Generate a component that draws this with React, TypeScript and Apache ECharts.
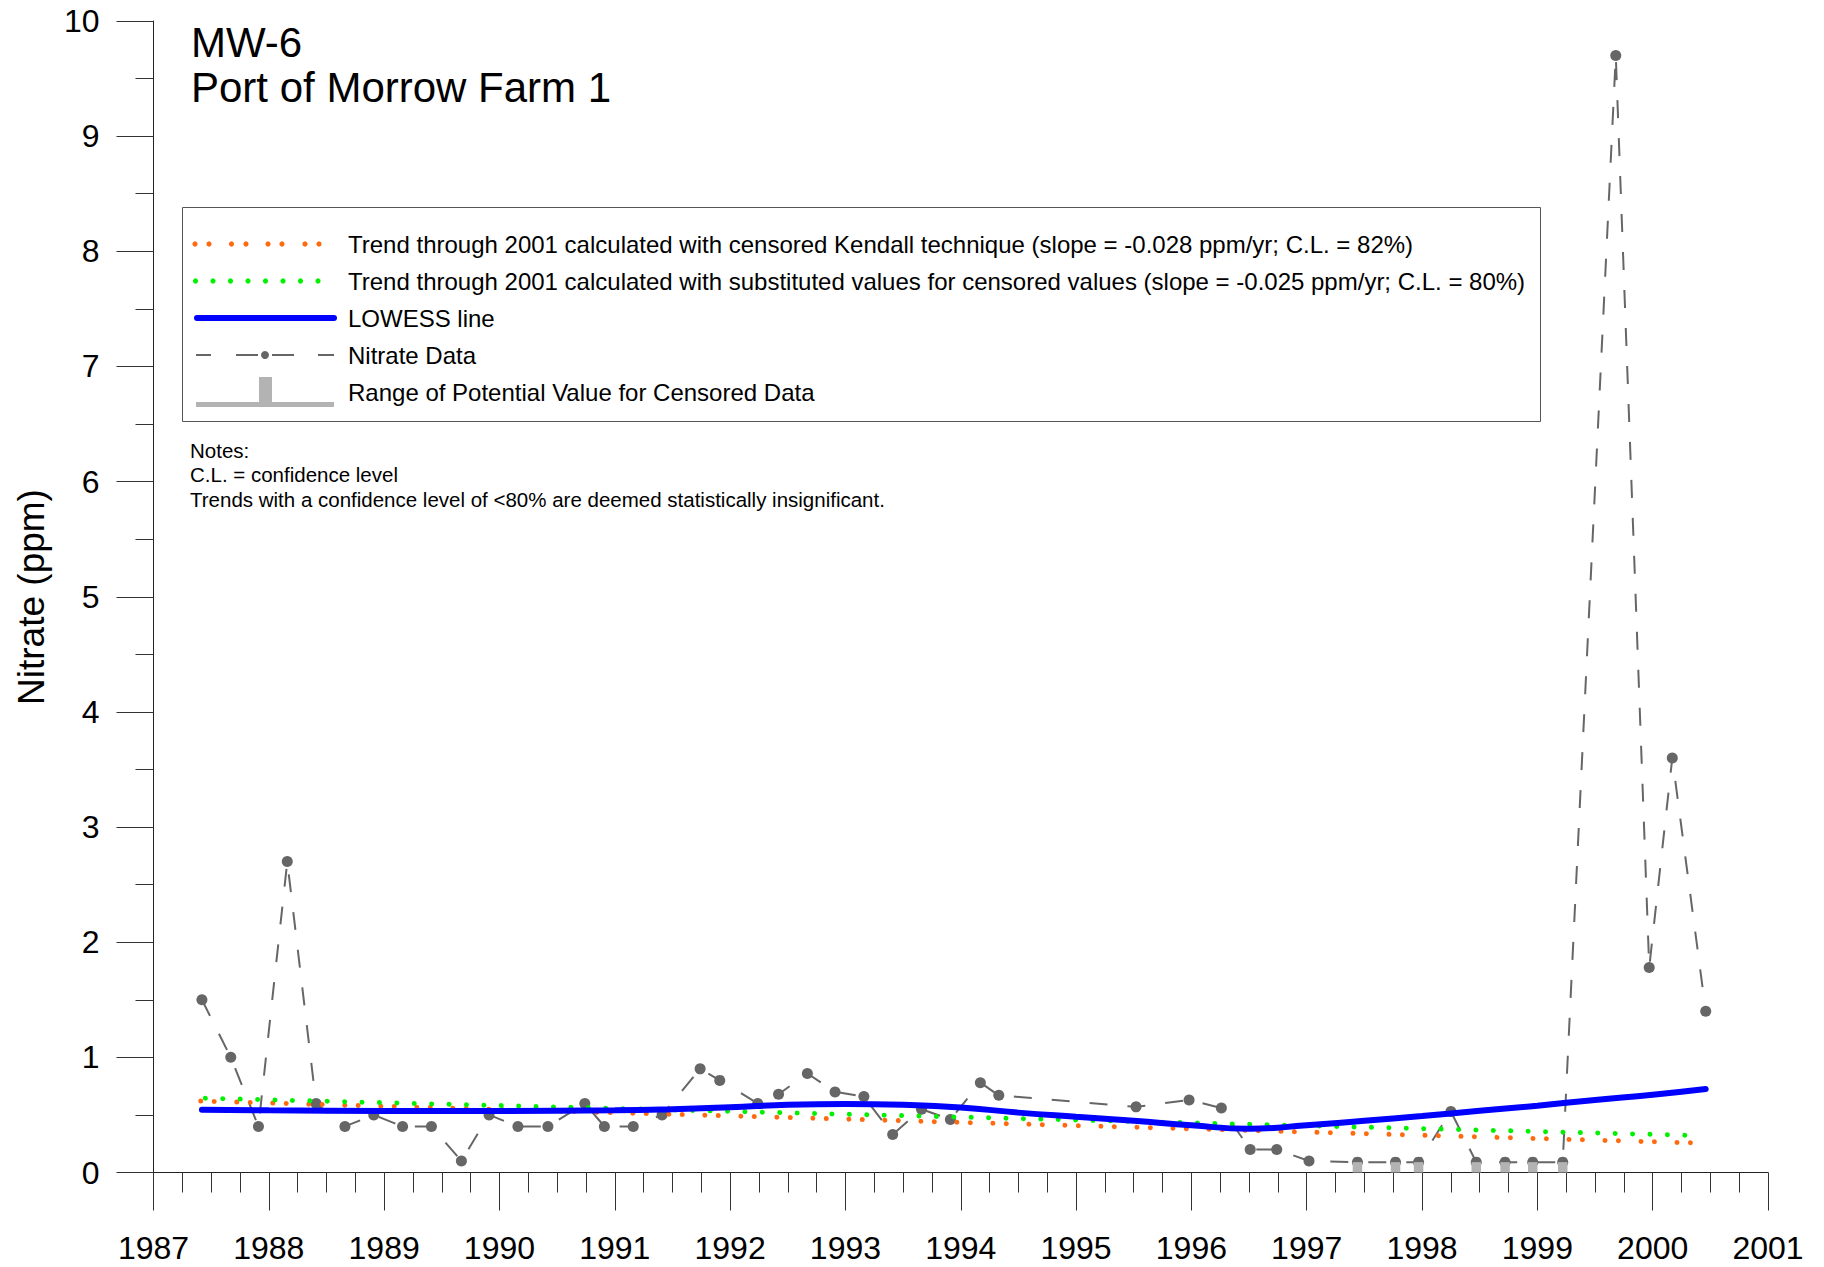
import React, { useEffect, useRef } from "react";
import * as echarts from "echarts";

// ---- Data ----
const nitrateData: [number, number][] = [
  [1987.42, 1.5], [1987.67, 1.0], [1987.91, 0.4], [1988.16, 2.7], [1988.41, 0.6],
  [1988.66, 0.4], [1988.91, 0.5], [1989.16, 0.4], [1989.41, 0.4], [1989.67, 0.1],
  [1989.91, 0.5], [1990.16, 0.4], [1990.42, 0.4], [1990.74, 0.6], [1990.91, 0.4],
  [1991.16, 0.4], [1991.41, 0.5], [1991.74, 0.9], [1991.91, 0.8], [1992.24, 0.6],
  [1992.42, 0.68], [1992.67, 0.86], [1992.91, 0.7], [1993.16, 0.66], [1993.41, 0.33],
  [1993.66, 0.55], [1993.91, 0.46], [1994.17, 0.78], [1994.33, 0.67], [1995.52, 0.57],
  [1995.98, 0.63], [1996.26, 0.56], [1996.51, 0.2], [1996.74, 0.2], [1997.02, 0.1],
  [1997.44, 0.09], [1997.77, 0.09], [1997.97, 0.09], [1998.25, 0.53], [1998.47, 0.09],
  [1998.72, 0.09], [1998.96, 0.09], [1999.22, 0.09], [1999.68, 9.7], [1999.97, 1.78],
  [2000.17, 3.6], [2000.46, 1.4],
];

const censoredData: [number, number][] = [
  [1997.44, 0.09], [1997.77, 0.09], [1997.97, 0.09], [1998.47, 0.09],
  [1998.72, 0.09], [1998.96, 0.09], [1999.22, 0.09],
];

const lowessData: [number, number][] = [
  [1987.42, 0.545], [1988, 0.54], [1989, 0.535], [1990, 0.535], [1991, 0.54],
  [1991.5, 0.55], [1992, 0.567], [1992.5, 0.588], [1993, 0.595], [1993.5, 0.588],
  [1994, 0.565], [1994.5, 0.52], [1995, 0.484], [1995.5, 0.45], [1996, 0.41],
  [1996.5, 0.38], [1997, 0.41], [1997.5, 0.45], [1998, 0.49], [1998.5, 0.536],
  [1999, 0.58], [1999.5, 0.63], [2000, 0.675], [2000.46, 0.725],
];

const kendallTrend: [number, number][] = [[1987.41, 0.62], [2000.4, 0.256]];
const substitutedTrend: [number, number][] = [[1987.45, 0.645], [2000.36, 0.322]];

const titleLines = ["MW-6", "Port of Morrow Farm 1"];
const legendLabels = [
  "Trend through 2001 calculated with censored Kendall technique (slope = -0.028 ppm/yr; C.L. = 82%)",
  "Trend through 2001 calculated with substituted values for censored values (slope = -0.025 ppm/yr; C.L. = 80%)",
  "LOWESS line",
  "Nitrate Data",
  "Range of Potential Value for Censored Data",
];
const notesLines = [
  "Notes:",
  "C.L. = confidence level",
  "Trends with a confidence level of <80% are deemed statistically insignificant.",
];
const yAxisTitle = "Nitrate (ppm)";

const FONT = '"Liberation Sans", Arial, Helvetica, sans-serif';
const ORANGE = "#ff6a10";
const GREEN = "#00f000";
const BLUE = "#0000ff";
const GREY = "#666666";
const CENS = "#b3b3b3";

export default function App() {
  const ref = useRef<HTMLDivElement>(null);

  useEffect(() => {
    if (!ref.current) return;
    const chart = echarts.init(ref.current, undefined, { renderer: "svg" });

    const legendRowsY = [244, 281, 318, 355, 392];
    const graphic: any[] = [];

    // Title
    titleLines.forEach((t, i) => {
      graphic.push({
        type: "text",
        x: 191,
        y: 42 + i * 45,
        style: { text: t, fill: "#000", font: `42px ${FONT}`, align: "left", verticalAlign: "middle" },
      });
    });

    // Y axis title
    graphic.push({
      type: "text",
      x: 31,
      y: 597,
      rotation: Math.PI / 2,
      style: { text: yAxisTitle, fill: "#000", font: `37px ${FONT}`, align: "center", verticalAlign: "middle" },
    });

    // Legend box
    graphic.push({
      type: "rect",
      shape: { x: 182.5, y: 207.5, width: 1358, height: 214 },
      style: { fill: "#fff", stroke: "#555", lineWidth: 1 },
      z: 10,
    });
    // orange dots pairs
    [195, 209, 231.5, 246, 268, 282, 305, 319].forEach((x) => {
      graphic.push({ type: "circle", shape: { cx: x, cy: legendRowsY[0], r: 2.6 }, style: { fill: ORANGE }, z: 11 });
    });
    // green dots
    for (let k = 0; k < 8; k++) {
      graphic.push({ type: "circle", shape: { cx: 195.5 + k * 17.5, cy: legendRowsY[1], r: 2.6 }, style: { fill: GREEN }, z: 11 });
    }
    // blue line
    graphic.push({
      type: "line",
      shape: { x1: 197, y1: legendRowsY[2], x2: 334, y2: legendRowsY[2] },
      style: { stroke: BLUE, lineWidth: 6, lineCap: "round" },
      z: 11,
    });
    // nitrate dashed
    [[196, 211], [236, 258], [272, 294], [318, 334]].forEach(([a, b]) => {
      graphic.push({
        type: "line",
        shape: { x1: a, y1: legendRowsY[3], x2: b, y2: legendRowsY[3] },
        style: { stroke: GREY, lineWidth: 2 },
        z: 11,
      });
    });
    graphic.push({ type: "circle", shape: { cx: 265, cy: legendRowsY[3], r: 4 }, style: { fill: GREY }, z: 11 });
    // censored symbol
    graphic.push({ type: "rect", shape: { x: 196, y: 402, width: 138, height: 5 }, style: { fill: CENS }, z: 11 });
    graphic.push({ type: "rect", shape: { x: 259, y: 377, width: 13, height: 27 }, style: { fill: CENS }, z: 11 });
    // legend labels
    legendLabels.forEach((t, i) => {
      graphic.push({
        type: "text",
        x: 348,
        y: legendRowsY[i],
        style: { text: t, fill: "#000", font: `24px ${FONT}`, align: "left", verticalAlign: "middle" },
        z: 11,
      });
    });

    // Notes
    notesLines.forEach((t, i) => {
      graphic.push({
        type: "text",
        x: 190,
        y: 450 + i * 24.5,
        style: { text: t, fill: "#000", font: `20.5px ${FONT}`, align: "left", verticalAlign: "middle" },
      });
    });

    const option: any = {
      animation: false,
      backgroundColor: "#ffffff",
      grid: { left: 153.5, right: 56, top: 21, bottom: 94.5, containLabel: false, outerBoundsMode: "none" },
      xAxis: {
        type: "value",
        min: 1987,
        max: 2001,
        interval: 1,
        axisLine: { show: true, onZero: false, lineStyle: { color: "#222", width: 1 } },
        axisTick: { show: true, length: 38, lineStyle: { color: "#333", width: 1 } },
        minorTick: { show: true, splitNumber: 4, length: 20, lineStyle: { color: "#333", width: 1 } },
        splitLine: { show: false },
        minorSplitLine: { show: false },
        axisLabel: {
          margin: 59,
          color: "#000",
          fontSize: 32,
          fontFamily: FONT,
          formatter: (v: number) => String(v),
        },
      },
      yAxis: {
        type: "value",
        min: 0,
        max: 10,
        interval: 1,
        axisLine: { show: true, lineStyle: { color: "#222", width: 1 } },
        axisTick: { show: true, length: 37, lineStyle: { color: "#333", width: 1 } },
        minorTick: { show: true, splitNumber: 2, length: 18, lineStyle: { color: "#333", width: 1 } },
        splitLine: { show: false },
        minorSplitLine: { show: false },
        axisLabel: { margin: 54, color: "#000", fontSize: 32, fontFamily: FONT },
      },
      graphic,
      series: [
        {
          type: "line",
          name: "Nitrate Data",
          data: nitrateData,
          symbol: "circle",
          symbolSize: 11,
          showSymbol: true,
          itemStyle: { color: GREY },
          lineStyle: { color: GREY, width: 2, type: [18, 20] },
          z: 2,
          silent: true,
        },
        {
          type: "custom",
          name: "Censored",
          data: censoredData,
          renderItem: (params: any, api: any) => {
            const x = api.value(0);
            const y = api.value(1);
            const top = api.coord([x, y]);
            const bottom = api.coord([x, 0]);
            return {
              type: "rect",
              shape: { x: top[0] - 4.75, y: top[1], width: 9.5, height: bottom[1] - top[1] },
              style: { fill: CENS },
            };
          },
          z: 3,
          silent: true,
        },
        {
          type: "line",
          name: "Kendall",
          data: kendallTrend,
          symbol: "none",
          lineStyle: { color: ORANGE, width: 5, type: [0.01, 13.4, 0.01, 22.6], cap: "round" },
          z: 4,
          silent: true,
        },
        {
          type: "line",
          name: "Substituted",
          data: substitutedTrend,
          symbol: "none",
          lineStyle: { color: GREEN, width: 5, type: [0.01, 17.4], cap: "round" },
          z: 4,
          silent: true,
        },
        {
          type: "line",
          name: "LOWESS",
          data: lowessData,
          symbol: "none",
          smooth: true,
          lineStyle: { color: BLUE, width: 6, cap: "round" },
          z: 5,
          silent: true,
        },
      ],
    };

    chart.setOption(option);
    return () => chart.dispose();
  }, []);

  return (
    <div
      ref={ref}
      style={{ position: "absolute", left: 0, top: 0, width: 1824, height: 1267, background: "#fff" }}
    />
  );
}
